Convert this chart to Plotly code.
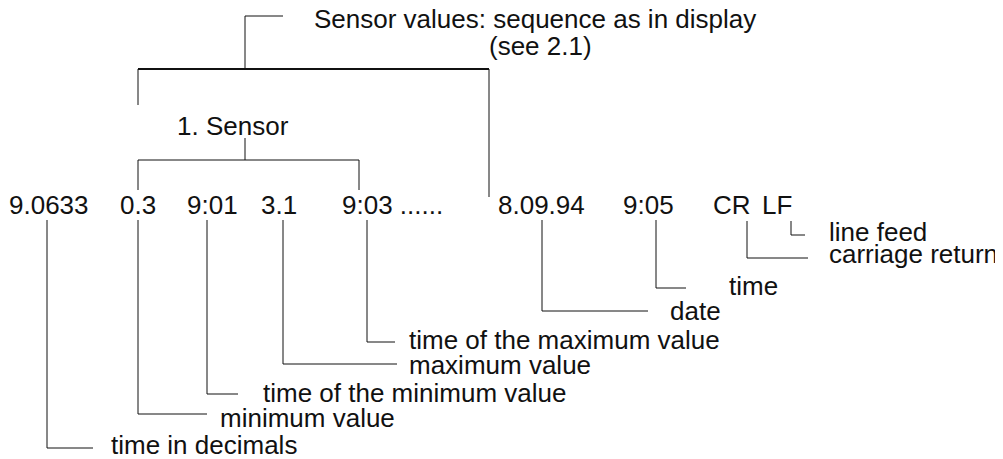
import plotly.graph_objects as go

# ---- content (text) ----
record_fields = ["9.0633", "0.3", "9:01", "3.1", "9:03 ......", "8.09.94", "9:05", "CR", "LF"]
descriptions = ["time in decimals", "minimum value", "time of the minimum value",
                "maximum value", "time of the maximum value", "date", "time",
                "carriage return", "line feed"]
group_title = ["Sensor values: sequence as in display", "(see 2.1)"]
sensor_title = "1. Sensor"

# ---- geometry (pixel coordinates of the diagram canvas) ----
field_left = [8, 119, 186, 260, 341, 497, 622, 712, 761]
field_baseline = 214
pointer_x = [47, 138, 207, 283, 367, 542, 656, 747, 791]
pointer_top = [220, 220, 220, 220, 220, 220, 220, 221, 221]
pointer_elbow_y = [448, 414, 394, 364, 342, 311, 288, 258, 235]
pointer_end_x = [93, 207, 238, 397, 395, 648, 686, 808, 805]
desc_left = [110, 219, 262, 408, 408, 669, 728, 828, 828]
desc_baseline = [454, 427, 402, 374, 349, 320, 295, 263, 241]

FS = 26
FONT = "Liberation Sans, Arial, Helvetica, sans-serif"
INK = "#111111"
W, H = 1003, 459
PAGE_MARGIN = 8  # default body margin of the html page


def mid(baseline):
    return baseline - 0.3465 * FS


fig = go.Figure()

# connector lines (pointers)
xs, ys = [], []
for x, t, ey, ex in zip(pointer_x, pointer_top, pointer_elbow_y, pointer_end_x):
    xs += [x, x, ex, None]
    ys += [t, ey, ey, None]

# bracket for "1. Sensor"
xs += [245, 245, None, 138, 359, None, 138, 138, None, 359, 359, None]
ys += [138, 160, None, 160, 160, None, 160, 190, None, 160, 190, None]
# bracket for sensor values group (thin parts)
xs += [283, 245, 245, None, 138, 138, None, 489, 489, None]
ys += [16, 16, 69, None, 69, 105, None, 69, 197, None]

fig.add_trace(go.Scatter(x=xs, y=ys, mode="lines",
                         line=dict(color=INK, width=1), hoverinfo="skip",
                         showlegend=False))
# thick top bar
fig.add_trace(go.Scatter(x=[138, 489], y=[69, 69], mode="lines",
                         line=dict(color=INK, width=2), hoverinfo="skip",
                         showlegend=False))

annotations = []


def label(text, x, baseline):
    annotations.append(dict(text=text, x=x, y=mid(baseline), xref="x", yref="y",
                            xanchor="left", yanchor="middle", showarrow=False,
                            borderpad=0, font=dict(family=FONT, size=FS, color=INK)))


for t, x in zip(record_fields, field_left):
    label(t, x, field_baseline)
for t, x, b in zip(descriptions, desc_left, desc_baseline):
    label(t, x, b)
label(sensor_title, 176, 135)
label(group_title[0], 313, 28)
label(group_title[1], 488, 55)

fig.update_layout(
    width=W - PAGE_MARGIN, height=H - PAGE_MARGIN,
    margin=dict(l=0, r=0, t=0, b=0, pad=0),
    paper_bgcolor="white", plot_bgcolor="white",
    xaxis=dict(range=[PAGE_MARGIN, W], visible=False, fixedrange=True),
    yaxis=dict(range=[H, PAGE_MARGIN], visible=False, fixedrange=True),
    annotations=annotations, showlegend=False,
)

fig.write_html("out.html")
